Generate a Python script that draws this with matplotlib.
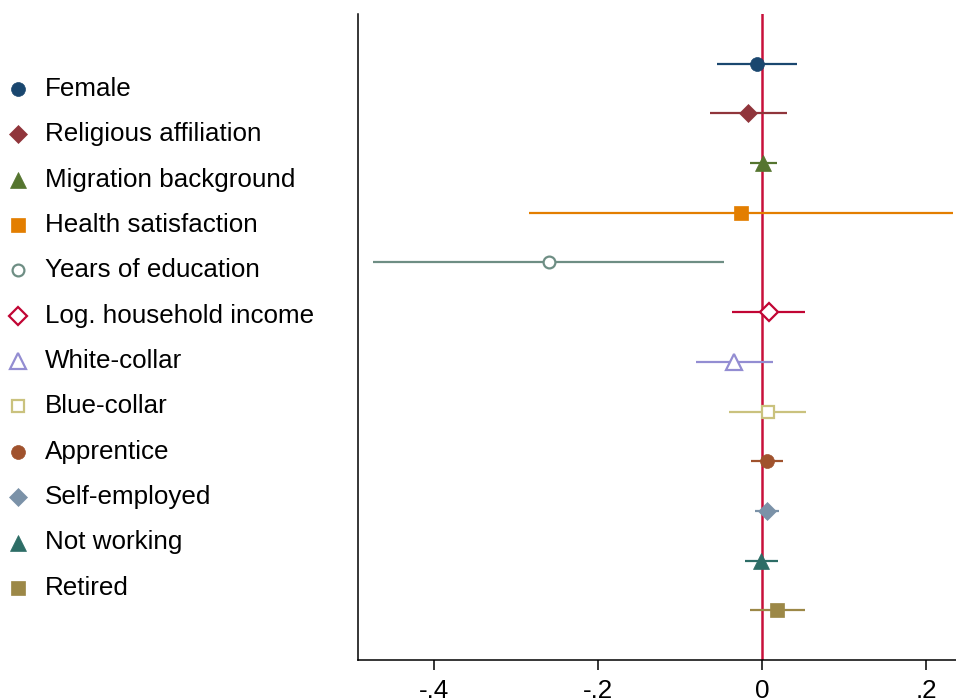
import matplotlib
matplotlib.use("Agg")
import matplotlib.pyplot as plt

plt.rcParams['font.family'] = ['Liberation Sans', 'DejaVu Sans']

labels = ["Female", "Religious affiliation", "Migration background", "Health satisfaction",
          "Years of education", "Log. household income", "White-collar", "Blue-collar",
          "Apprentice", "Self-employed", "Not working", "Retired"]
coef = [-0.006, -0.017, 0.001, -0.026, -0.260, 0.008, -0.034, 0.007, 0.006, 0.006, -0.001, 0.018]
ci_low = [-0.055, -0.064, -0.015, -0.284, -0.475, -0.037, -0.081, -0.040, -0.014, -0.009, -0.021, -0.015]
ci_high = [0.043, 0.030, 0.018, 0.233, -0.046, 0.053, 0.013, 0.054, 0.026, 0.021, 0.020, 0.053]
colors = ["#1a476f", "#90353b", "#55752f", "#e37e00", "#6e8e84", "#c10534",
          "#938dd2", "#cac27e", "#a0522d", "#7b92a8", "#2d6d66", "#9c8847"]
markers = ["o", "D", "^", "s", "o", "D", "^", "s", "o", "D", "^", "s"]
hollow = [False, False, False, False, True, True, True, True, False, False, False, False]
msizes = [10.0, 9.5, 12.0, 10.0, 8.5, 9.0, 11.0, 9.0, 10.0, 9.5, 12.0, 10.0]
xticks = [-0.4, -0.2, 0, 0.2]
xticklabels = ["-.4", "-.2", "0", ".2"]

W, H = 956, 698
fig = plt.figure(figsize=(W / 100, H / 100), dpi=100)

x0 = 358 / W
ax = fig.add_axes([x0, 38 / H, 1.0 - x0, 646 / H])
ax.set_xlim(-0.4927, 0.2366)
ax.set_ylim(13, 0)

ax.axvline(0, color="#c8103a", lw=1.8, zorder=1)

for i in range(len(labels)):
    y = i + 1
    c = colors[i]
    ax.plot([ci_low[i], ci_high[i]], [y, y], color=c, lw=1.6, zorder=2, solid_capstyle='butt')
    ax.plot([coef[i]], [y], marker=markers[i], ms=msizes[i], color=c,
            mfc="white" if hollow[i] else c, mec=c, mew=1.6 if hollow[i] else 0.5,
            ls="none", zorder=3)

ax.spines['top'].set_visible(False)
ax.spines['right'].set_visible(False)
ax.spines['left'].set_linewidth(1.1)
ax.spines['bottom'].set_linewidth(1.1)
ax.set_yticks([])
ax.set_xticks(xticks)
ax.set_xticklabels(xticklabels, fontsize=18.7)
ax.tick_params(axis='x', direction='out', length=7.5, width=1.1, pad=6)

# Legend drawn in pixel coordinates
lax = fig.add_axes([0, 0, x0, 1])
lax.set_xlim(0, 358)
lax.set_ylim(H, 0)
lax.axis('off')
for i in range(len(labels)):
    y = 89 + 45.35 * i
    c = colors[i]
    lax.plot([18], [y], marker=markers[i], ms=msizes[i], color=c,
             mfc="white" if hollow[i] else c, mec=c, mew=1.6 if hollow[i] else 0.5,
             ls="none")
    lax.text(45, y, labels[i], fontsize=18.7, va='center', ha='left', color='black')

fig.savefig("out.png", dpi=100)
